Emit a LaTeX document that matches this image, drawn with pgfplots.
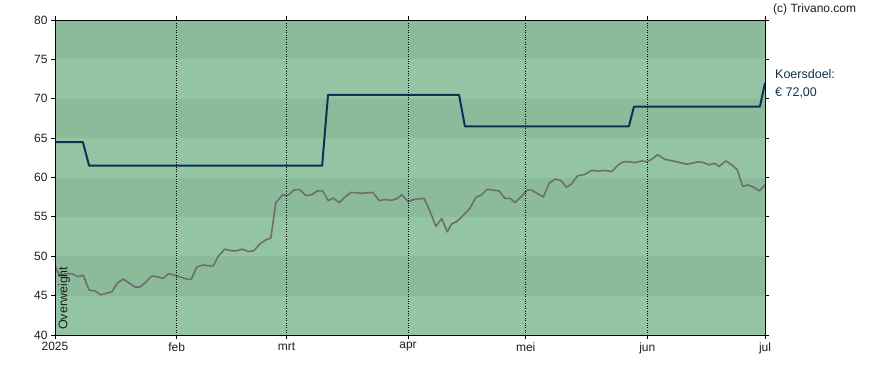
\documentclass[border=0pt]{standalone}
\usepackage{pgfplots}
\pgfplotsset{compat=1.18}
\usepackage{fontspec}
\setmainfont{Liberation Sans}
\definecolor{banddark}{RGB}{139,187,155}
\definecolor{bandlight}{RGB}{147,196,164}
\definecolor{target}{RGB}{10,50,82}
\definecolor{price}{RGB}{110,110,112}
\definecolor{txt}{RGB}{30,30,30}
\begin{document}
\begin{tikzpicture}[x=1pt,y=1pt]
\path[use as bounding box] (0,0) rectangle (888,370);
\begin{axis}[
  at={(55pt,35pt)}, anchor=south west, scale only axis,
  width=710pt, height=315pt,
  xmin=0, xmax=181, ymin=40, ymax=80,
  xtick={0,31,59,90,120,151,181},
  xticklabels={2025,feb,mrt,apr,mei,jun,jul},
  ytick={40,45,...,80},
  tick align=outside, major tick length=4pt,
  xmajorgrids, grid style={black, dotted, line width=0.8pt},
  axis line style={black, line width=0.9pt},
  tick style={black, line width=0.8pt},
  ticklabel style={font=\fontsize{12}{14}\selectfont, text=txt},
  /pgf/number format/assume math mode=true,
  axis on top,
]
\fill[banddark]  (axis cs:0,75) rectangle (axis cs:181,80);
\fill[bandlight] (axis cs:0,70) rectangle (axis cs:181,75);
\fill[banddark]  (axis cs:0,65) rectangle (axis cs:181,70);
\fill[bandlight] (axis cs:0,60) rectangle (axis cs:181,65);
\fill[banddark]  (axis cs:0,55) rectangle (axis cs:181,60);
\fill[bandlight] (axis cs:0,50) rectangle (axis cs:181,55);
\fill[banddark]  (axis cs:0,45) rectangle (axis cs:181,50);
\fill[bandlight] (axis cs:0,40) rectangle (axis cs:181,45);
\addplot[price, line width=1.6pt, line join=round, mark=none] coordinates {
(0,48.8) (1.1,47.6) (2.5,47.75) (4.3,47.8) (5.9,47.4) (7.2,47.6) (8.7,45.7) (10.2,45.6)
(11.7,45.1) (14.5,45.5) (15.9,46.6) (17.4,47.1) (20.4,46.1) (21.7,46.1) (22.9,46.6)
(24.7,47.5) (25.9,47.4) (27.6,47.2) (28.9,47.8) (30.6,47.6) (32.3,47.3) (33.6,47.1)
(34.7,47.05) (36.1,48.6) (37.7,48.9) (38.8,48.8) (40.4,48.8) (41.6,50.0) (43.3,50.9)
(45.0,50.7) (46.3,50.7) (47.7,50.9) (49.3,50.6) (50.7,50.7) (52.3,51.6) (53.8,52.1)
(55.0,52.3) (56.3,56.8) (58.0,57.8) (59.2,57.65) (60.9,58.4) (62.3,58.5) (64.0,57.7)
(65.4,57.8) (66.9,58.3) (68.2,58.3) (69.7,57.05) (70.9,57.4) (72.5,56.8) (73.9,57.5)
(75.4,58.1) (78.2,58.0) (81.0,58.1) (82.7,57.05) (83.9,57.2) (85.8,57.1) (87.1,57.3)
(88.4,57.8) (90.1,56.9) (91.3,57.2) (94.1,57.35) (95.6,55.7) (97.1,53.8) (98.6,54.8)
(100.0,53.1) (101.1,54.1) (102.4,54.4) (104.1,55.2) (105.8,56.1) (107.3,57.5) (108.8,57.8)
(110.2,58.5) (111.7,58.4) (113.2,58.3) (114.7,57.35) (116.0,57.35) (117.3,56.8) (118.7,57.5)
(120.3,58.4) (121.5,58.4) (123.2,57.9) (124.5,57.55) (126.0,59.3) (127.5,59.8) (129.0,59.6)
(130.4,58.75) (131.7,59.2) (133.2,60.2) (135.1,60.4) (136.8,60.9) (138.5,60.8) (140.2,60.9)
(141.9,60.75) (143.6,61.6) (144.9,62.0) (146.4,62.0) (147.9,61.9) (149.6,62.1) (150.8,62.0)
(152.1,62.3) (153.6,62.9) (155.5,62.3) (157.6,62.1) (159.3,61.9) (160.9,61.7) (162.3,61.8)
(164.0,62.0) (165.3,61.9) (166.7,61.6) (168.1,61.8) (169.3,61.4) (171.0,62.1) (172.5,61.6)
(173.9,61.0) (175.3,58.9) (176.7,59.05) (178.2,58.75) (179.5,58.3) (181,59.05)
};
\addplot[target, line width=2pt, line join=round, mark=none] coordinates {
(0,64.5) (7.1,64.5) (8.7,61.5) (68.1,61.5) (69.6,70.5) (103,70.5) (104.5,66.5)
(146.3,66.5) (147.6,69) (179.7,69) (181,72)
};
\node[rotate=90, anchor=north west, inner sep=0pt, font=\fontsize{12.5}{14}\selectfont, text=txt]
  at ([xshift=3pt, yshift=5pt]axis cs:0,40) {Overweight};
\end{axis}
\node[anchor=west, inner sep=0pt, font=\fontsize{12}{14}\selectfont, text=txt] at (773,361) {(c) Trivano.com};
\node[anchor=west, inner sep=0pt, font=\fontsize{12.5}{14}\selectfont, text=target] at (775,296) {Koersdoel:};
\node[anchor=west, inner sep=0pt, font=\fontsize{12.5}{14}\selectfont, text=target] at (775,277) {€ 72,00};
\end{tikzpicture}
\end{document}
